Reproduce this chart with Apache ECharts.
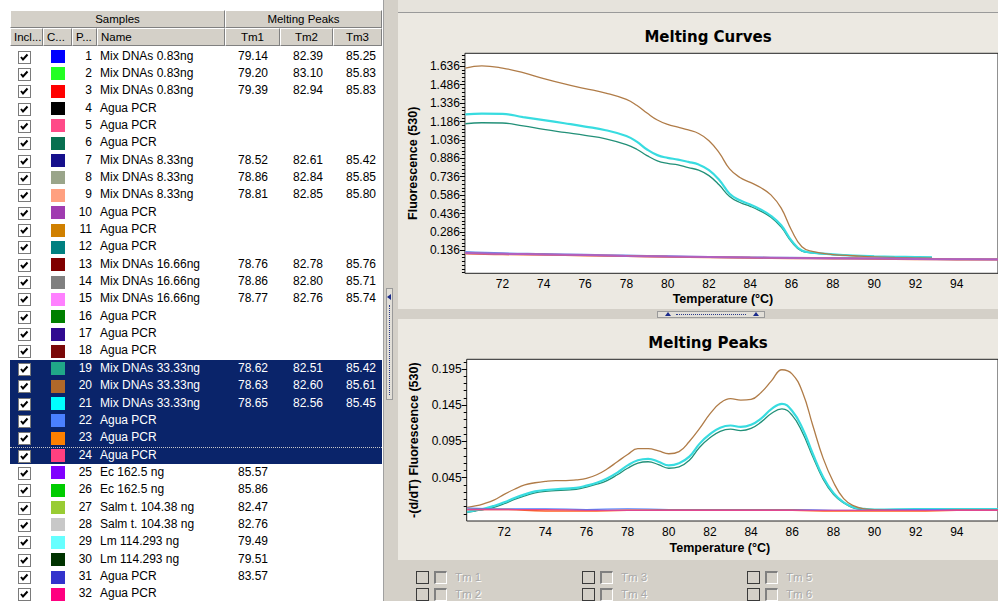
<!DOCTYPE html>
<html><head><meta charset="utf-8">
<script src="https://cdn.jsdelivr.net/npm/echarts@6/dist/echarts.min.js"></script>
<style>
html,body{margin:0;padding:0;width:998px;height:601px;overflow:hidden;background:#fff;font-family:"Liberation Sans",Arial,sans-serif;}
#left{position:absolute;left:0;top:0;width:383px;height:601px;background:#fff;overflow:hidden;}
.hdr{position:absolute;background:#D4D0C8;border-top:1px solid #fff;border-left:1px solid #fff;border-right:1px solid #808080;border-bottom:1px solid #808080;box-sizing:border-box;font-size:11.5px;text-align:center;color:#000;white-space:nowrap;overflow:hidden;}
.hdr.l{text-align:left;padding-left:3px;}
#selbg{position:absolute;left:10px;width:372px;background:#0A246A;}
.row{position:absolute;left:10px;width:372px;font-size:12px;color:#000;}
.row.sel{color:#fff;}
.row span{position:absolute;white-space:nowrap;}
.cb{position:absolute;left:8px;width:13px;height:13px;box-sizing:border-box;border:1px solid #7a7a7a;background:#fff;}
.sw{position:absolute;left:41px;width:14px;height:13px;}
#vsplit{position:absolute;left:383px;top:0;width:15px;height:601px;background:#D4D0C8;border-left:1px solid #a0a0a0;box-sizing:border-box;}
#vhandle{position:absolute;left:386px;top:288px;width:7px;height:112px;background:#E2DFD8;border:1px solid #9a9a9a;box-sizing:border-box;}
#vhandle .dots{position:absolute;left:2px;top:16px;width:0;height:90px;border-left:1px dotted #2a3a8a;}
#vhandle .arr{position:absolute;left:0px;top:5px;width:0;height:0;border-top:3px solid transparent;border-bottom:3px solid transparent;border-right:4px solid #1a2a8a;}
#topstrip{position:absolute;left:398px;top:0;width:600px;height:12px;background:#E6E3DC;}
#p1{position:absolute;left:398px;top:12px;width:600px;height:297px;background:#ECE9E2;border-top:1px solid #9a9a9a;box-sizing:border-box;}
#hsplit{position:absolute;left:398px;top:309px;width:600px;height:10px;background:#D4D0C8;}
#hhandle{position:absolute;left:657px;top:311px;width:108px;height:7px;background:#E2DFD8;border:1px solid #9a9a9a;box-sizing:border-box;}
#hhandle .dots{position:absolute;left:18px;top:2px;width:70px;height:0;border-top:1px dotted #2a3a8a;}
#hhandle .a1,#hhandle .a2{position:absolute;top:0px;width:0;height:0;border-left:3px solid transparent;border-right:3px solid transparent;border-bottom:4px solid #1a2a8a;}
#hhandle .a1{left:7px;} #hhandle .a2{left:95px;}
#p2{position:absolute;left:398px;top:319px;width:600px;height:241px;background:#ECE9E2;}
#bottom{position:absolute;left:398px;top:560px;width:600px;height:41px;background:#D4D0C8;}
.opt{position:absolute;font-size:11.5px;color:#a9a9a9;text-shadow:1px 1px 0 #fff;}
.opt .b1{position:absolute;left:0;top:0;width:13px;height:13px;box-sizing:border-box;border:1px solid #3a3a3a;}
.opt .b2{position:absolute;left:18px;top:0;width:13px;height:13px;box-sizing:border-box;border-top:2px solid #808080;border-left:2px solid #808080;border-right:1px solid #fff;border-bottom:1px solid #fff;background:#D4D0C8;}
.opt .t{position:absolute;left:39px;top:-1px;white-space:nowrap;line-height:14px;}
#chart{position:absolute;left:398px;top:12px;width:600px;height:548px;}
</style></head>
<body>
<div id="left"></div>
<div id="vsplit"></div>
<div id="vhandle"><div class="arr"></div><div class="dots"></div></div>
<div id="topstrip"></div>
<div id="p1"></div>
<div id="hsplit"></div>
<div id="hhandle"><div class="a1"></div><div class="dots"></div><div class="a2"></div></div>
<div id="p2"></div>
<div id="bottom"></div>
<div id="chart"></div>
<script>
// ---------------- Table data ----------------
const samplePos = [1,2,3,4,5,6,7,8,9,10,11,12,13,14,15,16,17,18,19,20,21,22,23,24,25,26,27,28,29,30,31,32];
const sampleNames = ["Mix DNAs 0.83ng","Mix DNAs 0.83ng","Mix DNAs 0.83ng","Agua PCR","Agua PCR","Agua PCR",
  "Mix DNAs 8.33ng","Mix DNAs 8.33ng","Mix DNAs 8.33ng","Agua PCR","Agua PCR","Agua PCR",
  "Mix DNAs 16.66ng","Mix DNAs 16.66ng","Mix DNAs 16.66ng","Agua PCR","Agua PCR","Agua PCR",
  "Mix DNAs 33.33ng","Mix DNAs 33.33ng","Mix DNAs 33.33ng","Agua PCR","Agua PCR","Agua PCR",
  "Ec 162.5 ng","Ec 162.5 ng","Salm t. 104.38 ng","Salm t. 104.38 ng","Lm 114.293 ng","Lm 114.293 ng","Agua PCR","Agua PCR"];
const sampleColors = ["#0000FF","#22FF22","#FF0000","#000000","#FF4A88","#087050",
  "#16108C","#9AA58A","#FFA080","#A03CB0","#D08000","#008080",
  "#800000","#808080","#FF80FF","#008000","#300A90","#7A0808",
  "#20A888","#B0682A","#00FFFF","#4A80FF","#FF8000","#FF4080",
  "#8000FF","#00CC00","#99CC33","#C8C8C8","#66FFFF","#003300","#3333CC","#FF0080"];
const tm1 = [79.14,79.20,79.39,null,null,null,78.52,78.86,78.81,null,null,null,78.76,78.86,78.77,null,null,null,78.62,78.63,78.65,null,null,null,85.57,85.86,82.47,82.76,79.49,79.51,83.57,null];
const tm2 = [82.39,83.10,82.94,null,null,null,82.61,82.84,82.85,null,null,null,82.78,82.80,82.76,null,null,null,82.51,82.60,82.56,null,null,null,null,null,null,null,null,null,null,null];
const tm3 = [85.25,85.83,85.83,null,null,null,85.42,85.85,85.80,null,null,null,85.76,85.71,85.74,null,null,null,85.42,85.61,85.45,null,null,null,null,null,null,null,null,null,null,null];
const selectedRows = [19,20,21,22,23,24];

// ---------------- Chart data ----------------
const curveTemps = [70.2,71,72,73,74,75,76,77,78,78.5,79,79.5,80,80.5,81,81.5,82,82.5,83,83.5,84,84.5,85,85.5,86,86.5,87,88,89,90,91,92,92.8];
const curve19 = [1.168,1.176,1.174,1.150,1.122,1.097,1.073,1.045,0.998,0.960,0.908,0.866,0.845,0.832,0.810,0.790,0.745,0.668,0.575,0.526,0.495,0.456,0.405,0.325,0.205,0.130,0.115,0.102,0.093,0.087,0.083,0.080,0.078];
const curve20 = [1.622,1.640,1.622,1.584,1.535,1.492,1.455,1.418,1.366,1.318,1.255,1.198,1.162,1.140,1.117,1.088,1.030,0.930,0.800,0.730,0.690,0.648,0.588,0.480,0.300,0.165,0.128,0.102,0.092,0.083,0.078,0.075,0.072];
const curve21 = [1.245,1.250,1.248,1.222,1.198,1.172,1.145,1.115,1.068,1.022,0.958,0.912,0.890,0.876,0.857,0.835,0.790,0.710,0.598,0.544,0.510,0.470,0.418,0.340,0.215,0.135,0.118,0.104,0.094,0.088,0.084,0.081,0.079];
const baseTemps = [70.2,72,74,76,78,80,82,84,86,88,90,92,94,96];
const curve22 = [0.122,0.112,0.106,0.100,0.094,0.088,0.082,0.078,0.075,0.072,0.070,0.067,0.064,0.063];
const curve23 = [0.110,0.104,0.100,0.095,0.090,0.083,0.080,0.076,0.072,0.070,0.068,0.064,0.062,0.061];
const curve24 = [0.114,0.108,0.103,0.098,0.091,0.086,0.081,0.077,0.074,0.071,0.069,0.066,0.063,0.062];

const peakTemps = [70.2,70.6,71,71.5,72,72.5,73,73.5,74,74.5,75,75.5,76,76.5,77,77.5,78,78.5,79,79.5,80,80.5,81,81.5,82,82.5,83,83.5,84,84.5,85,85.5,86,86.5,87,87.5,88,88.5,89,89.5,90,92,94,96];
const peak19 = [-0.003,-0.001,0.001,0.004,0.009,0.015,0.020,0.024,0.026,0.027,0.028,0.029,0.032,0.036,0.041,0.049,0.058,0.065,0.067,0.063,0.058,0.060,0.069,0.087,0.100,0.109,0.112,0.110,0.113,0.122,0.134,0.140,0.131,0.107,0.074,0.043,0.022,0.010,0.003,0.001,0.000,0.000,0.000,0.000];
const peak20 = [0.004,0.006,0.009,0.014,0.022,0.029,0.035,0.038,0.040,0.041,0.041,0.042,0.044,0.049,0.057,0.067,0.077,0.085,0.085,0.082,0.078,0.081,0.095,0.113,0.133,0.148,0.154,0.152,0.153,0.163,0.179,0.194,0.188,0.163,0.117,0.072,0.039,0.016,0.006,0.002,0.001,0.001,0.001,0.001];
const peak21 = [-0.002,0.000,0.002,0.006,0.011,0.017,0.022,0.026,0.028,0.029,0.030,0.031,0.034,0.038,0.044,0.052,0.062,0.069,0.071,0.067,0.062,0.065,0.074,0.092,0.105,0.114,0.117,0.115,0.118,0.127,0.140,0.147,0.137,0.113,0.078,0.046,0.024,0.011,0.004,0.002,0.001,0.0015,0.0015,0.0015];
const peak22 = [0.003,0.002,0.002,0.001,0.002,0.001,0.001,0.001,0.001,0.000,0.000,0.001,0.001,0.001];
const peak23 = [0.001,0.001,-0.001,-0.001,0.000,0.000,0.000,0.000,0.000,-0.001,-0.001,-0.001,0.000,0.000];
const peak24 = [0.001,0.001,0.001,0.000,0.000,0.000,0.000,0.000,0.000,0.000,0.000,0.000,0.000,0.000];

const xTickLabels = [72,74,76,78,80,82,84,86,88,90,92,94];
const curveYTickLabels = [0.136,0.286,0.436,0.586,0.736,0.886,1.036,1.186,1.336,1.486,1.636];
const peakYTickLabels = [0.045,0.095,0.145,0.195];
const tmOptions = ["Tm 1","Tm 2","Tm 3","Tm 4","Tm 5","Tm 6"];

// ---------------- Build table ----------------
const left = document.getElementById('left');
function hdr(x, y, w, h, text, cls) {
  const d = document.createElement('div');
  d.className = 'hdr' + (cls ? ' ' + cls : '');
  d.style.left = x + 'px'; d.style.top = y + 'px'; d.style.width = w + 'px'; d.style.height = h + 'px';
  d.style.lineHeight = (h - 2) + 'px';
  d.textContent = text; left.appendChild(d);
}
hdr(10, 10, 215, 18, 'Samples');
hdr(225, 10, 157, 18, 'Melting Peaks');
hdr(10, 28, 33, 18, 'Incl...', 'l');
hdr(43, 28, 29, 18, 'C...', 'l');
hdr(72, 28, 25, 18, 'P...', 'l');
hdr(97, 28, 128, 18, 'Name', 'l');
hdr(225, 28, 55, 18, 'Tm1');
hdr(280, 28, 53, 18, 'Tm2');
hdr(333, 28, 49, 18, 'Tm3');
const rowH = 17.35, row0 = 47.5;
const firstSel = samplePos.indexOf(selectedRows[0]);
const selbg = document.createElement('div');
selbg.id = 'selbg';
selbg.style.top = (row0 + firstSel * rowH) + 'px';
selbg.style.height = (selectedRows.length * rowH) + 'px';
left.appendChild(selbg);
const checkSvg = '<svg width="11" height="11" style="position:absolute;left:0;top:0"><polyline points="2,5 4,7.5 8.5,2.5" fill="none" stroke="#000" stroke-width="2"/></svg>';
samplePos.forEach((p, i) => {
  const r = document.createElement('div');
  const sel = selectedRows.includes(p);
  r.className = 'row' + (sel ? ' sel' : '');
  r.style.top = (row0 + i * rowH) + 'px';
  r.style.height = rowH + 'px';
  const ty = 1;
  let html = '<div class="cb" style="top:3px">' + checkSvg + '</div>';
  html += '<div class="sw" style="top:2.5px;background:' + sampleColors[i] + '"></div>';
  html += '<span style="right:' + (372 - 82) + 'px;top:' + ty + 'px">' + p + '</span>';
  html += '<span style="left:90px;top:' + ty + 'px">' + sampleNames[i] + '</span>';
  if (tm1[i] != null) html += '<span style="left:228px;top:' + ty + 'px">' + tm1[i].toFixed(2) + '</span>';
  if (tm2[i] != null) html += '<span style="left:283px;top:' + ty + 'px">' + tm2[i].toFixed(2) + '</span>';
  if (tm3[i] != null) html += '<span style="left:336px;top:' + ty + 'px">' + tm3[i].toFixed(2) + '</span>';
  if (p === 24) html += '<div style="position:absolute;left:0;top:0;right:0;height:0;border-top:1px dotted #c8c8c8"></div>';
  r.innerHTML = html;
  left.appendChild(r);
});

// ---------------- Bottom options ----------------
const bottom = document.getElementById('bottom');
const optPos = [[18,11],[18,28],[184,11],[184,28],[349,11],[349,28]];
tmOptions.forEach((t, i) => {
  const d = document.createElement('div');
  d.className = 'opt';
  d.style.left = optPos[i][0] + 'px'; d.style.top = optPos[i][1] + 'px';
  d.innerHTML = '<div class="b1"></div><div class="b2"></div><div class="t">' + t + '</div>';
  bottom.appendChild(d);
});

// ---------------- Charts ----------------
const chart = echarts.init(document.getElementById('chart'), null, {renderer: 'svg'});
function pairs(xs, ys) { return xs.map((x, i) => [x, ys[i]]); }
function line(name, xs, ys, color, width, gi, z) {
  return {type: 'line', name: name, xAxisIndex: gi, yAxisIndex: gi * 2, data: pairs(xs, ys),
    showSymbol: false, symbol: 'none', smooth: 0.45, clip: true, silent: true,
    lineStyle: {color: color, width: width}, itemStyle: {color: color}, z: z, animation: false};
}
function minorList(start, step, end) {
  const a = []; for (let v = start; v <= end + 1e-9; v += step) a.push(Math.round(v * 10000) / 10000); return a;
}
const cMin = -0.051, cMax = 1.742, pMin = -0.0148, pMax = 0.2084, tMin = 70.18, tMax = 96;
const lblFont = {fontFamily: '"Liberation Sans", Arial, sans-serif', fontSize: 12, color: '#000'};
const nameFont = {fontFamily: '"Liberation Sans", Arial, sans-serif', fontSize: 12.5, fontWeight: 'bold', color: '#000'};
function xAx(gi, padR, gap) {
  return {type: 'value', gridIndex: gi, min: tMin, max: tMax,
    name: 'Temperature (°C)', nameLocation: 'middle', nameGap: gap, nameTextStyle: Object.assign({padding: [0, padR, 0, 0]}, nameFont),
    axisLine: {show: false}, axisTick: {show: false}, splitLine: {show: false},
    axisLabel: Object.assign({customValues: xTickLabels, margin: 5, formatter: v => String(v)}, lblFont)};
}
function yAx(gi, min, max, ticks, name, gap) {
  return {type: 'value', gridIndex: gi, min: min, max: max,
    name: name, nameLocation: 'middle', nameGap: gap, nameTextStyle: nameFont,
    axisLine: {show: false}, splitLine: {show: false},
    axisTick: {show: true, customValues: ticks, length: 5, lineStyle: {color: '#000'}},
    axisLabel: Object.assign({customValues: ticks, margin: 5, formatter: v => v.toFixed(3)}, lblFont)};
}
function yMinor(gi, min, max, ticks) {
  return {type: 'value', gridIndex: gi, min: min, max: max, position: 'left',
    axisLine: {show: false}, splitLine: {show: false},
    axisTick: {show: true, customValues: ticks, length: 3, lineStyle: {color: '#000'}},
    axisLabel: {show: false, customValues: ticks}};
}
const titleFont = {fontFamily: '"DejaVu Sans", Verdana, sans-serif', fontSize: 15, fontWeight: 'bold', color: '#000'};
const option = {
  animation: false,
  title: [
    {text: 'Melting Curves', left: 305, top: 20, textAlign: 'center', textVerticalAlign: 'middle', textStyle: titleFont},
    {text: 'Melting Peaks', left: 305, top: 326, textAlign: 'center', textVerticalAlign: 'middle', textStyle: titleFont}
  ],
  grid: [
    {left: 62.7, top: 41.3, width: 556, height: 220, show: true, backgroundColor: '#fff', borderColor: '#222', borderWidth: 1},
    {left: 68.7, top: 347.3, width: 552, height: 161.7, show: true, backgroundColor: '#fff', borderColor: '#222', borderWidth: 1}
  ],
  xAxis: [xAx(0, 17, 19), xAx(1, 25, 20)],
  yAxis: [
    yAx(0, cMin, cMax, curveYTickLabels, 'Fluorescence (530)', 34),
    yMinor(0, cMin, cMax, minorList(-0.044, 0.03, 1.74)),
    yAx(1, pMin, pMax, peakYTickLabels, '-(d/dT) Fluorescence (530)', 39),
    yMinor(1, pMin, pMax, minorList(-0.005, 0.01, 0.205))
  ],
  series: [
    line('19', curveTemps, curve19, '#229078', 1.3, 0, 3),
    line('21', curveTemps, curve21, '#38DCE0', 2.2, 0, 4),
    line('20', curveTemps, curve20, '#B07C48', 1.3, 0, 5),
    line('22', baseTemps, curve22, '#6A8EE8', 2, 0, 6),
    line('23', baseTemps, curve23, '#F06838', 2, 0, 7),
    line('24', baseTemps, curve24, '#B060C0', 2, 0, 8),
    line('19', peakTemps, peak19, '#229078', 1.3, 1, 3),
    line('21', peakTemps, peak21, '#38DCE0', 2.2, 1, 4),
    line('20', peakTemps, peak20, '#B07C48', 1.3, 1, 5),
    line('22', baseTemps, peak22, '#4A80FF', 1.3, 1, 6),
    line('23', baseTemps, peak23, '#FF6020', 1.5, 1, 7),
    line('24', baseTemps, peak24, '#E04890', 1.3, 1, 8)
  ]
};
chart.setOption(option);
</script>
</body></html>
